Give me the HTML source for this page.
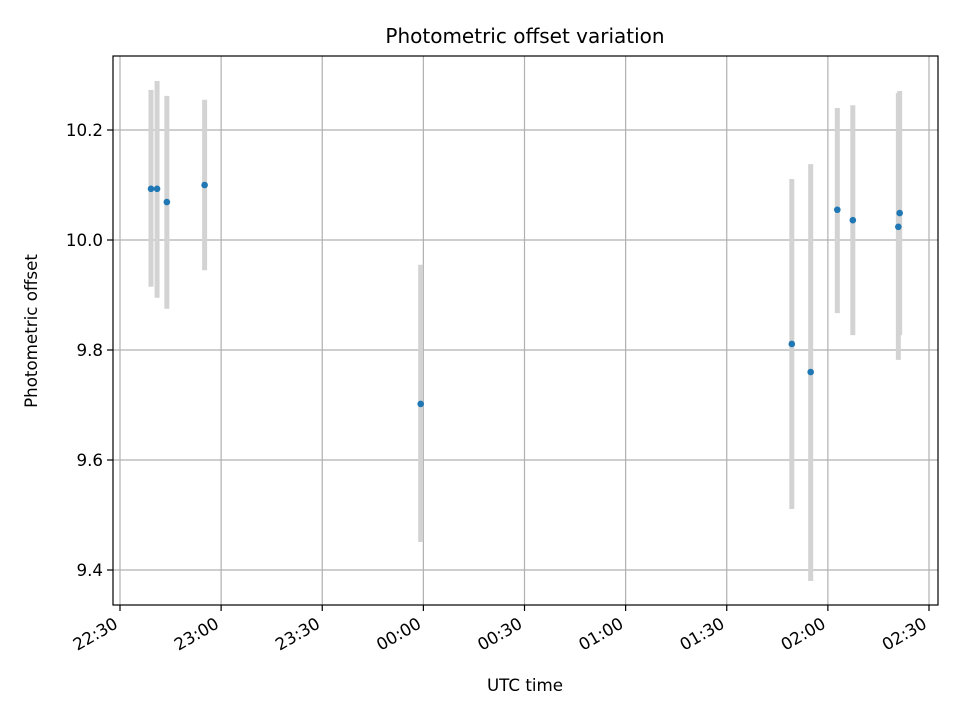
<!DOCTYPE html>
<html><head><meta charset="utf-8"><style>
body{margin:0;background:#fff}
svg text{font-family:"DejaVu Sans","Liberation Sans",sans-serif;fill:#000}
</style></head><body>
<svg id="chart" width="960" height="720" viewBox="0 0 960 720" xmlns="http://www.w3.org/2000/svg">
<rect width="960" height="720" fill="#fff"/>
<text x="525" y="43" font-size="20" text-anchor="middle">Photometric offset variation</text>
<text x="525" y="691" font-size="16.7" text-anchor="middle">UTC time</text>
<text x="37" y="331" font-size="16.7" text-anchor="middle" transform="rotate(-90 37 331)">Photometric offset</text>
<g id="grid"></g><g id="bars"></g><g id="pts"></g><g id="axes"></g>
<rect x="113" y="56" width="825" height="549" fill="none" stroke="#000" stroke-width="1.2"/>
</svg>
<script>
// minutes after 22:30 UTC
const times=[9.2,11.0,13.9,25.1,89.2,199.3,204.9,212.8,217.4,231.3,230.9];
const offsets=[10.093,10.093,10.069,10.100,9.702,9.811,9.760,10.055,10.036,10.049,10.024];
const upper=[10.273,10.289,10.262,10.255,9.955,10.111,10.138,10.240,10.245,10.271,10.267];
const lower=[9.915,9.895,9.875,9.945,9.451,9.511,9.380,9.867,9.827,9.827,9.782];
const xTickMins=[0,30,60,90,120,150,180,210,240];
const xTickLabels=["22:30","23:00","23:30","00:00","00:30","01:00","01:30","02:00","02:30"];
const yTicks=[9.4,9.6,9.8,10.0,10.2];
const yTickLabels=["9.4","9.6","9.8","10.0","10.2"];
const NS="http://www.w3.org/2000/svg";
const X=m=>120+m*(809/240);
const Y=v=>240-(v-10)*550;
function mk(p,t,a){const e=document.createElementNS(NS,t);for(const k in a)e.setAttribute(k,a[k]);document.getElementById(p).appendChild(e);return e;}
xTickMins.forEach((m,i)=>{
 const x=X(m);
 const g=mk('grid','line',{x1:x,x2:x,y1:56,y2:605,stroke:'#b0b0b0','stroke-width':1.2});
 
 
 const t=mk('axes','line',{x1:x,x2:x,y1:605,y2:611,stroke:'#000','stroke-width':1.2});
 
 
 const lx=x-1, ly=627;
 const l=mk('axes','text',{x:lx,y:ly,'font-size':16.7,'text-anchor':'end',transform:`rotate(-30 ${lx} ${ly})`});
 l.textContent=xTickLabels[i];
 
 
});
yTicks.forEach((v,i)=>{
 const y=Y(v);
 const g=mk('grid','line',{x1:113,x2:938,y1:y,y2:y,stroke:'#b0b0b0','stroke-width':1.2});
 
 
 const t=mk('axes','line',{x1:107,x2:113,y1:y,y2:y,stroke:'#000','stroke-width':1.2});
 
 
 const l=mk('axes','text',{x:103,y:y+6,'font-size':16.7,'text-anchor':'end'});
 l.textContent=yTickLabels[i];
 
 
});
times.forEach((m,i)=>{
 const x=X(m);
 const b=mk('bars','line',{x1:x,x2:x,y1:Y(upper[i]),y2:Y(lower[i]),stroke:'#d3d3d3','stroke-width':5});
 
 
 const c=mk('pts','circle',{cx:x,cy:Y(offsets[i]),r:3.3,fill:'#1f77b4'});
 
 
});
</script>
</body></html>
